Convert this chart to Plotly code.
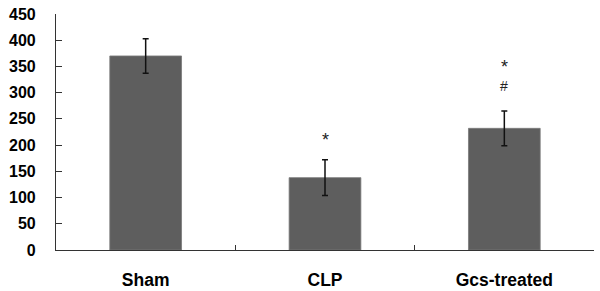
import plotly.graph_objects as go

categories = ["Sham", "CLP", "Gcs-treated"]
values = [370, 138, 232]
errors = [33, 34, 33]
y_ticks = [0, 50, 100, 150, 200, 250, 300, 350, 400, 450]

fig = go.Figure()
fig.add_trace(go.Bar(
    x=categories, y=values, width=0.4,
    marker=dict(color="#5e5e5e", line=dict(color="#7a7a7a", width=0.8)),
    error_y=dict(type="data", array=errors, visible=True, color="#111111",
                 thickness=1.5, width=3),
))

# significance marks
fig.add_annotation(x="CLP", y=values[1] + errors[1], yshift=20, text="*",
                   showarrow=False, font=dict(size=18, color="#222", family="Liberation Sans"))
fig.add_annotation(x="Gcs-treated", y=values[2] + errors[2], yshift=44,
                   text="*", showarrow=False,
                   font=dict(size=18, color="#222", family="Liberation Sans"))
fig.add_annotation(x="Gcs-treated", y=values[2] + errors[2], yshift=25,
                   text="#", showarrow=False,
                   font=dict(size=14, color="#222", family="Liberation Sans"))

fig.update_layout(
    width=600, height=291,
    margin=dict(l=56, r=6, t=14, b=41),
    plot_bgcolor="white", paper_bgcolor="white",
    showlegend=False,
    font=dict(family="Liberation Sans", size=14, color="black"),
)
fig.update_xaxes(
    range=[-0.5, 2.5], showline=True, linecolor="#333", linewidth=1.2,
    ticks="inside", tickson="boundaries", ticklen=5, tickcolor="#333",
    tickfont=dict(family="Liberation Sans", size=17.5, color="black", weight="bold"),
    ticklabelstandoff=14, showgrid=False, zeroline=False, automargin=False,
)
fig.update_yaxes(
    range=[0, 450], tickvals=y_ticks, showline=True, linecolor="#333", linewidth=1.2,
    ticks="inside", ticklen=6, tickcolor="#333", showgrid=False, zeroline=False,
    tickfont=dict(family="Liberation Sans", size=16, color="black", weight="bold"),
    ticklabelstandoff=16, automargin=False,
)
fig.write_html("out.html", config={"displayModeBar": False},
               post_script="document.body.style.margin='0';document.body.style.overflow='hidden';")
